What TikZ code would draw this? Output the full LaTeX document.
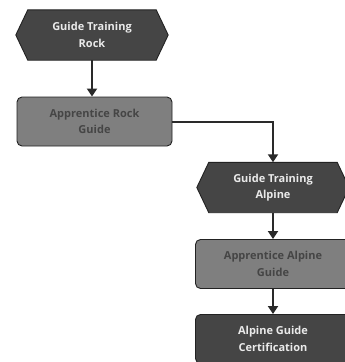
\documentclass[tikz,border=0pt]{standalone}
\usepackage{fontspec}
\setmainfont{Open Sans}
\usetikzlibrary{arrows.meta,backgrounds,calc}
\definecolor{hexfill}{HTML}{454545}
\definecolor{hexline}{HTML}{222222}
\definecolor{midfill}{HTML}{7F7F7F}
\definecolor{midtext}{HTML}{454545}
\definecolor{darkfill}{HTML}{454545}
\definecolor{lightext}{HTML}{EAEAEA}
\definecolor{arrowcol}{HTML}{2A2A2A}
\tikzset{
  lbl/.style={align=center, font=\bfseries\fontsize{11}{16.5}\selectfont, inner sep=0pt},
  hexnode/.style={lbl, text=lightext, minimum width=152pt, minimum height=50pt},
  midbox/.style={lbl, text=midtext, draw=hexline, line width=0.9pt, fill=midfill, rounded corners=5pt, minimum width=155pt, minimum height=49pt},
  darkbox/.style={lbl, text=lightext, draw=hexline, line width=0.9pt, fill=darkfill, rounded corners=5pt, minimum width=155pt, minimum height=49pt},
  hexshape/.style={fill=hexfill, draw=hexline, line width=0.9pt},
  flow/.style={draw=arrowcol, line width=2pt, -{Triangle[width=10pt,length=8pt]}}
}
\begin{document}
\begin{tikzpicture}[x=1pt,y=-1pt]
\useasboundingbox (0,0) rectangle (345,362);
\clip (0,0) rectangle (345,362);
\node[hexnode] (h1) at (92,35) {Guide Training\\Rock};
\node[midbox] (r2) at (94.5,121.5) {Apprentice Rock\\Guide};
\node[hexnode] (h2) at (273,187.5) {Guide Training\\Alpine};
\node[midbox] (r3) at (273,264) {Apprentice Alpine\\Guide};
\node[darkbox] (r4) at (273,339) {Alpine Guide\\Certification};
\begin{scope}[on background layer]
  \foreach \h in {h1,h2}{
    \draw[hexshape] (\h.west) -- ($(\h.north west)+(12,0)$) -- ($(\h.north east)+(-12,0)$)
      -- (\h.east) -- ($(\h.south east)+(-12,0)$) -- ($(\h.south west)+(12,0)$) -- cycle;
  }
\end{scope}
\draw[flow] (h1.south) -- (h1.south |- r2.north);
\draw[flow] (r2.east) -| (h2.north);
\draw[flow] (h2.south) -- (r3.north);
\draw[flow] (r3.south) -- (r4.north);
\end{tikzpicture}
\end{document}
